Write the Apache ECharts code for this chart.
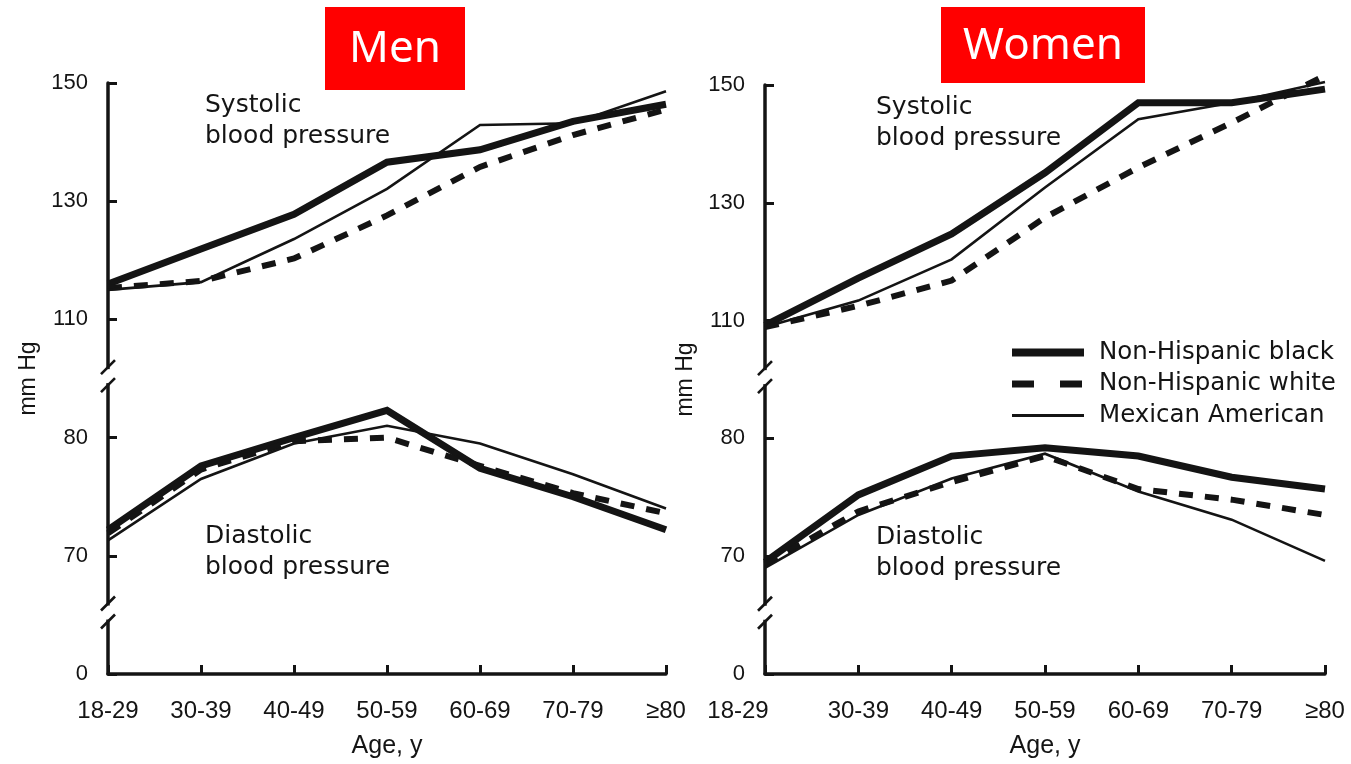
<!DOCTYPE html>
<html>
<head>
<meta charset="utf-8">
<script src="https://cdn.jsdelivr.net/npm/echarts@6/dist/echarts.min.js"></script>
<style>
  html, body { margin: 0; padding: 0; background: #ffffff; }
  #chart { width: 1351px; height: 764px; }
</style>
</head>
<body>
<div id="chart"></div>
<script>
// Age groups on the x axis
const ageGroups = ['18-29', '30-39', '40-49', '50-59', '60-69', '70-79', '≥80'];

// Tick labels of the broken y axis, bottom to top
const yTickLabels = [0, 70, 80, 110, 130, 150];

// Men, systolic (mm Hg)
const menSysBlack = [116.0, 121.9, 127.8, 136.6, 138.7, 143.5, 146.4];
const menSysWhite = [115.3, 116.5, 120.3, 127.6, 135.8, 141.2, 145.5];
const menSysMexican = [115.0, 116.3, 123.6, 132.1, 142.9, 143.2, 148.6];
// Men, diastolic (mm Hg)
const menDiaBlack = [72.2, 77.6, 80.0, 82.3, 77.4, 75.0, 72.2];
const menDiaWhite = [71.9, 77.3, 79.7, 80.0, 77.6, 75.3, 73.6];
const menDiaMexican = [71.3, 76.5, 79.5, 81.0, 79.5, 76.9, 74.0];

// Women, systolic (mm Hg)
const womenSysBlack = [109.2, 117.2, 124.7, 135.1, 147.0, 147.0, 149.3];
const womenSysWhite = [108.9, 112.5, 116.8, 127.5, 136.0, 143.6, 151.6];
const womenSysMexican = [108.9, 113.4, 120.4, 132.6, 144.2, 147.0, 150.5];
// Women, diastolic (mm Hg)
const womenDiaBlack = [69.5, 75.2, 78.5, 79.2, 78.5, 76.7, 75.7];
const womenDiaWhite = [69.3, 73.8, 76.3, 78.5, 75.7, 74.8, 73.5];
const womenDiaMexican = [69.0, 73.5, 76.6, 78.7, 75.5, 73.1, 69.6];

// Where the axis is interrupted (in axis steps)
const breakLevels = [0.52, 2.52];

const INK = '#141414';
const TEXT_FONT = '"DejaVu Sans", Arial, sans-serif';
const TICK_FONT = '"Liberation Sans", Arial, sans-serif';

// Broken scale: steps 0..1 = 0..70, 1..2 = 70..80 (10 mm Hg/step), 3..5 = 110..150 (20 mm Hg/step)
function sysPos(v) { return 3 + (v - 110) / 20; }
function diaPos(v) { return 1 + (v - 70) / 10; }

const lineLook = {
  'Non-Hispanic black': { width: 7, type: 'solid' },
  'Non-Hispanic white': { width: 6, type: [14, 12] },
  'Mexican American': { width: 2.6, type: 'solid' }
};

function lineSeries(name, values, toPos, gi) {
  const st = lineLook[name];
  return {
    type: 'line', name: name,
    xAxisIndex: gi, yAxisIndex: gi,
    data: values.map(toPos),
    symbol: 'none', clip: false, silent: true,
    lineStyle: { color: INK, width: st.width, type: st.type, cap: 'butt', join: 'miter' },
    itemStyle: { color: INK },
    z: st.width > 5 ? 3 : 4
  };
}

function breakSeries(gi) {
  return {
    type: 'custom', xAxisIndex: gi, yAxisIndex: gi, silent: true, clip: false, z: 10,
    data: breakLevels.map(b => [0, b]),
    renderItem: function (params, api) {
      const p = api.coord([api.value(0), api.value(1)]);
      const x = p[0], y = p[1];
      return {
        type: 'group',
        children: [
          { type: 'rect', shape: { x: x - 6, y: y - 7, width: 12, height: 14 }, style: { fill: '#ffffff' } },
          { type: 'line', shape: { x1: x - 7, y1: y - 2, x2: x + 7, y2: y - 16 }, style: { stroke: INK, lineWidth: 2.6 } },
          { type: 'line', shape: { x1: x - 7, y1: y + 16, x2: x + 7, y2: y + 2 }, style: { stroke: INK, lineWidth: 2.6 } }
        ]
      };
    }
  };
}

function xAxisFor(gi) {
  return {
    type: 'category', gridIndex: gi, data: ageGroups, boundaryGap: false,
    axisLine: { lineStyle: { color: INK, width: 3.5 } },
    axisTick: { inside: true, length: 9, lineStyle: { color: INK, width: 3 } },
    axisLabel: {
      color: INK, fontFamily: TICK_FONT, fontSize: 24, margin: 25,
      interval: 0, hideOverlap: false,
      // on the right-hand panel the first age label sits a little left of its tick
      formatter: function (v, i) { return (gi === 1 && i === 0) ? '{lead|' + v + '}' : v; },
      rich: { lead: { color: INK, fontFamily: TICK_FONT, fontSize: 24, padding: [0, 54, 0, 0] } }
    },
    splitLine: { show: false },
    name: 'Age, y', nameLocation: 'middle', nameGap: 60,
    nameTextStyle: { color: INK, fontFamily: TICK_FONT, fontSize: 25 }
  };
}

function yAxisFor(gi) {
  return {
    type: 'value', gridIndex: gi, min: 0, max: 5, interval: 1,
    axisLine: { show: true, lineStyle: { color: INK, width: 3.5 } },
    axisTick: { show: true, inside: true, length: 9, lineStyle: { color: INK, width: 3 } },
    axisLabel: {
      color: INK, fontFamily: TICK_FONT, fontSize: 22, margin: 20,
      formatter: function (v) { return String(yTickLabels[Math.round(v)]); }
    },
    splitLine: { show: false },
    name: 'mm Hg', nameLocation: 'middle', nameGap: 68, nameRotate: 90,
    nameTextStyle: { color: INK, fontFamily: TICK_FONT, fontSize: 23 }
  };
}

const panelText = function (x, y, text) {
  return {
    type: 'text', x: x, y: y, silent: true,
    style: { text: text, fill: INK, font: '25px ' + TEXT_FONT, lineHeight: 31, textVerticalAlign: 'top' }
  };
};

const chart = echarts.init(document.getElementById('chart'), null, { renderer: 'canvas' });

chart.setOption({
  animation: false,
  backgroundColor: '#ffffff',
  grid: [
    { left: 108, top: 83, width: 558, height: 592 },
    { left: 765, top: 85, width: 560, height: 592 }
  ],
  xAxis: [xAxisFor(0), xAxisFor(1)],
  yAxis: [yAxisFor(0), yAxisFor(1)],
  legend: {
    orient: 'vertical', left: 1003, top: 335,
    itemWidth: 72, itemHeight: 14, itemGap: 6.5,
    itemStyle: { opacity: 0 },
    textStyle: { color: INK, fontFamily: TEXT_FONT, fontSize: 24.5, padding: [0, 0, 0, 10] },
    selectedMode: false,
    data: [
      { name: 'Non-Hispanic black', lineStyle: { width: 8, type: 'solid' } },
      { name: 'Non-Hispanic white', lineStyle: { width: 7, type: [22, 26] } },
      { name: 'Mexican American', lineStyle: { width: 3, type: 'solid' } }
    ]
  },
  graphic: [
    { type: 'rect', left: 325, top: 7, shape: { width: 140, height: 83 }, style: { fill: '#ff0000' } },
    { type: 'text', x: 395, y: 49, style: { text: 'Men', fill: '#ffffff', font: '44px "Noto Sans"', textAlign: 'center', textVerticalAlign: 'middle' } },
    { type: 'rect', left: 941, top: 7, shape: { width: 204, height: 76 }, style: { fill: '#ff0000' } },
    { type: 'text', x: 1043, y: 46, style: { text: 'Women', fill: '#ffffff', font: '44px "Noto Sans"', textAlign: 'center', textVerticalAlign: 'middle' } },
    panelText(205, 90, 'Systolic\nblood pressure'),
    panelText(876, 92, 'Systolic\nblood pressure'),
    panelText(205, 521, 'Diastolic\nblood pressure'),
    panelText(876, 522, 'Diastolic\nblood pressure')
  ],
  series: [
    lineSeries('Non-Hispanic black', menSysBlack, sysPos, 0),
    lineSeries('Non-Hispanic white', menSysWhite, sysPos, 0),
    lineSeries('Mexican American', menSysMexican, sysPos, 0),
    lineSeries('Non-Hispanic black', menDiaBlack, diaPos, 0),
    lineSeries('Non-Hispanic white', menDiaWhite, diaPos, 0),
    lineSeries('Mexican American', menDiaMexican, diaPos, 0),
    lineSeries('Non-Hispanic black', womenSysBlack, sysPos, 1),
    lineSeries('Non-Hispanic white', womenSysWhite, sysPos, 1),
    lineSeries('Mexican American', womenSysMexican, sysPos, 1),
    lineSeries('Non-Hispanic black', womenDiaBlack, diaPos, 1),
    lineSeries('Non-Hispanic white', womenDiaWhite, diaPos, 1),
    lineSeries('Mexican American', womenDiaMexican, diaPos, 1),
    breakSeries(0),
    breakSeries(1)
  ]
});
</script>
</body>
</html>
